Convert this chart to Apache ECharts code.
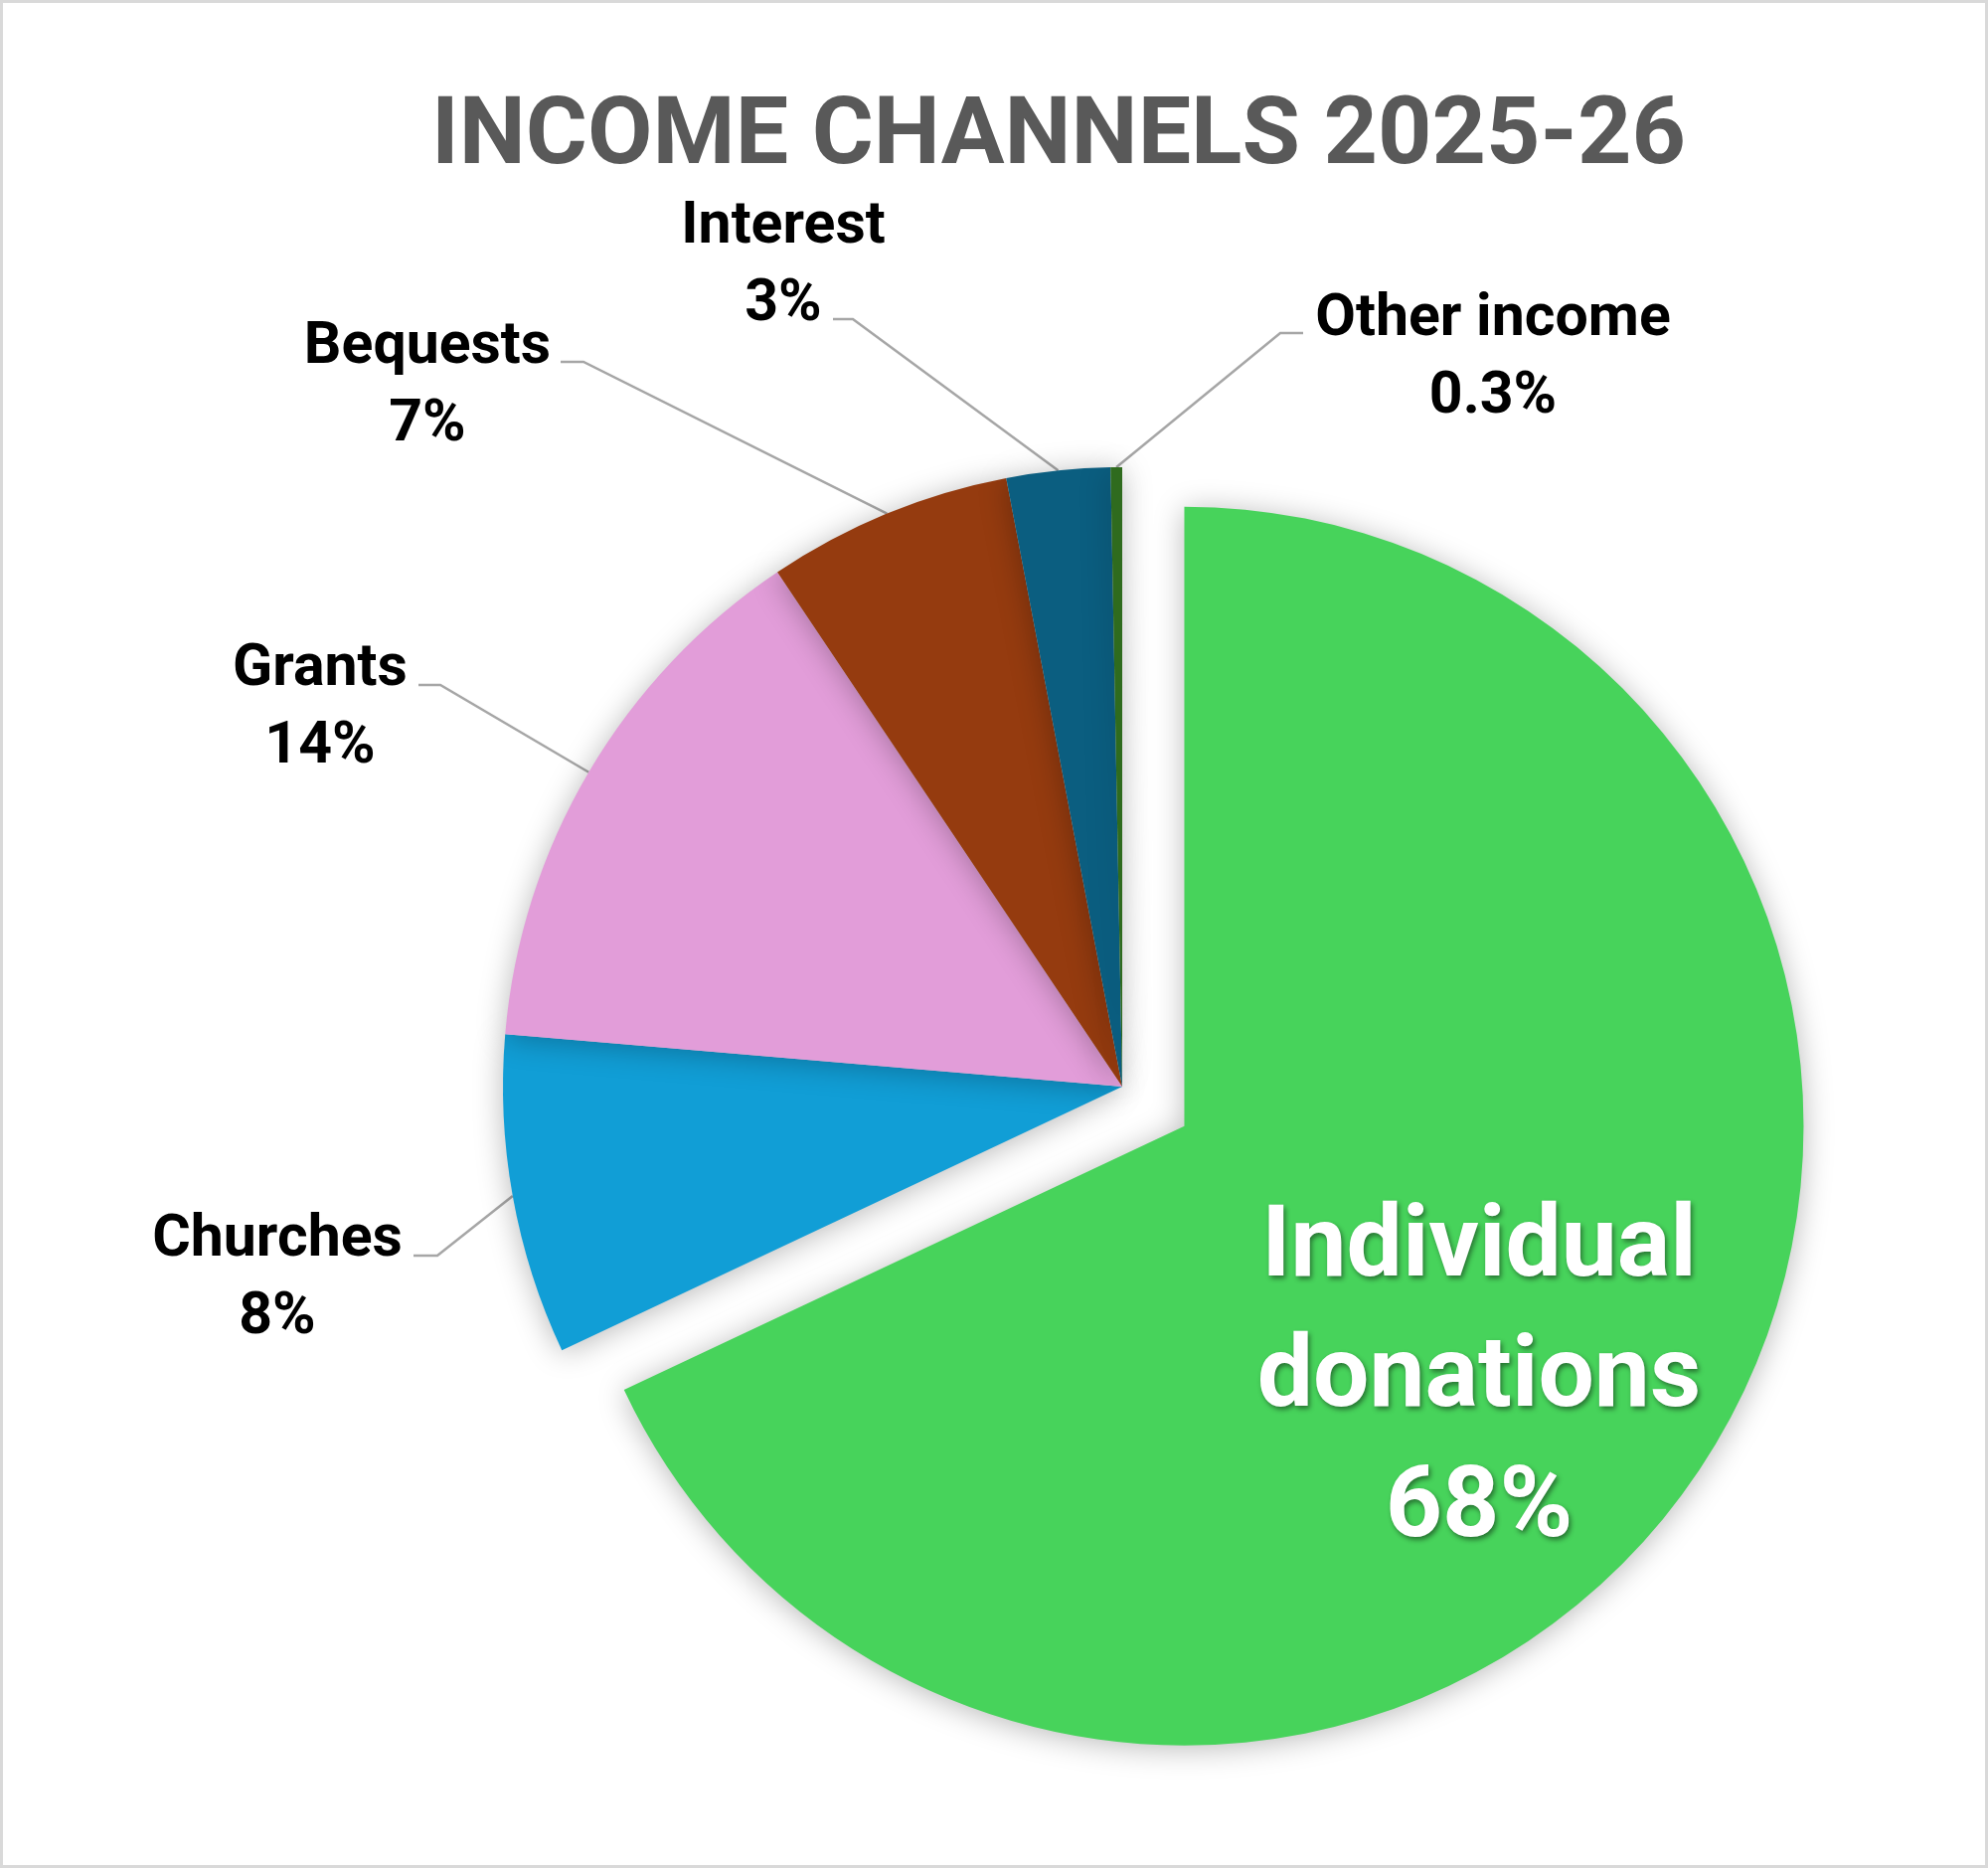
<!DOCTYPE html>
<html><head><meta charset="utf-8">
<script src="https://cdn.jsdelivr.net/npm/echarts@6/dist/echarts.min.js"></script>
<style>html,body{margin:0;padding:0;background:#fff}#c{width:2000px;height:1879px}</style>
</head><body><div id="c"></div>
<script>
const categories = ['Individual donations', 'Churches', 'Grants', 'Bequests', 'Interest', 'Other income'];
const values = [68.0, 8.35, 14.25, 6.4, 2.7, 0.3];
const valueLabels = ['68%', '8%', '14%', '7%', '3%', '0.3%'];
const colors = ['#47d35b', '#119ed6', '#e29dd9', '#953b0f', '#0b5e80', '#2f6b1e'];
const titleText = 'INCOME CHANNELS 2025-26';

// label placement (layout only): [textCenterX, textCenterY, elbowX, elbowY, lineEndX]
const labelPlacement = [
  null,
  [279, 1287, 440, 1263, 416],
  [322, 713, 443, 689, 421],
  [430, 389, 587, 364, 564],
  [788, 268, 858, 321, 838],
  [1502, 361, 1288, 335, 1311]
];
// shift of the inside label: left padding and a spacer line on top
const insideLabelPadding = [0, 0, 0, 62];
const insideSpacerHeight = 176;

const FONT = 'Roboto, "Open Sans", sans-serif';
const CX = 1129, CY = 1093, R = 623;

const chart = echarts.init(document.getElementById('c'), null, {renderer: 'canvas'});

const data = categories.map((name, i) => {
  const item = {name: name, value: values[i], itemStyle: {color: colors[i]}};
  if (i === 0) {
    item.selected = true;
    item.label = {
      position: 'inside',
      padding: insideLabelPadding,
      color: '#ffffff',
      fontSize: 100,
      lineHeight: 131,
      fontWeight: 'bold',
      fontFamily: FONT,
      textShadowColor: 'rgba(0,0,0,0.45)',
      textShadowBlur: 5,
      textShadowOffsetX: 2,
      textShadowOffsetY: 3,
      formatter: '{s| }\nIndividual\ndonations\n' + valueLabels[0],
      rich: {
        s: {fontSize: 10, lineHeight: insideSpacerHeight, textShadowBlur: 0, textShadowColor: 'transparent'}
      }
    };
    item.labelLine = {show: false};
  }
  return item;
});

chart.setOption({
  backgroundColor: '#ffffff',
  animation: false,
  title: {
    text: titleText,
    left: 429,
    top: 88,
    textStyle: {fontFamily: FONT, fontWeight: 'bold', fontSize: 95, color: '#595959'}
  },
  graphic: [{
    type: 'rect',
    shape: {x: 1.5, y: 1.5, width: 1997, height: 1876},
    style: {fill: 'none', stroke: '#d9d9d9', lineWidth: 3},
    silent: true
  }],
  series: [{
    type: 'pie',
    center: [CX, CY],
    radius: R,
    startAngle: 90,
    clockwise: true,
    selectedMode: 'single',
    selectedOffset: 74,
    avoidLabelOverlap: false,
    emphasis: {disabled: true},
    itemStyle: {
      borderWidth: 0,
      shadowBlur: 30,
      shadowColor: 'rgba(0,0,0,0.28)',
      shadowOffsetX: 0,
      shadowOffsetY: 3
    },
    label: {
      show: true,
      position: 'outside',
      color: '#000000',
      fontFamily: FONT,
      fontWeight: 'bold',
      fontSize: 59,
      lineHeight: 78,
      align: 'center',
      formatter: function (p) { return p.name + '\n' + valueLabels[p.dataIndex]; }
    },
    labelLine: {
      show: true,
      length: 20,
      length2: 20,
      smooth: false,
      lineStyle: {color: '#a6a6a6', width: 2.5}
    },
    labelLayout: function (params) {
      const i = params.dataIndex;
      const p = labelPlacement[i];
      if (!p) return {};
      const res = {x: p[0], y: p[1], align: 'center', verticalAlign: 'middle'};
      let start;
      if (params.labelLinePoints && params.labelLinePoints[0]) {
        start = params.labelLinePoints[0];
      } else {
        const total = values.reduce((a, b) => a + b, 0);
        let before = 0;
        for (let k = 0; k < i; k++) before += values[k];
        const ang = (before + values[i] / 2) / total * 2 * Math.PI;
        start = [CX + R * Math.sin(ang), CY - R * Math.cos(ang)];
      }
      res.labelLinePoints = [start, [p[2], p[3]], [p[4], p[3]]];
      return res;
    },
    data: data
  }]
});
</script>
</body></html>
